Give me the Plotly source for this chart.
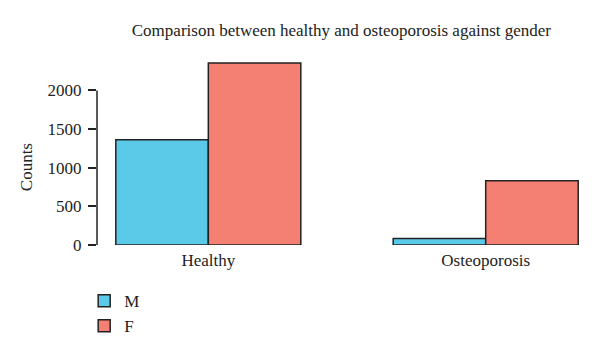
import plotly.graph_objects as go

categories = ["Healthy", "Osteoporosis"]
male_counts = [1362, 85]
female_counts = [2355, 832]
series_names = ["M", "F"]
y_ticks = [0, 500, 1000, 1500, 2000]

FONT = "Liberation Serif"
colors = {"M": "#5BCAE8", "F": "#F47F73"}

fig = go.Figure()
for name, vals, grp in [("M", male_counts, "g1"), ("F", female_counts, "g2")]:
    fig.add_trace(go.Bar(
        x=categories, y=vals, name=name, legendgroup=grp,
        marker=dict(color=colors[name], line=dict(color="#222222", width=1.5)),
    ))

# y axis line only from 0 to 2000 (R base style)
fig.add_shape(type="line", xref="paper", yref="y", x0=0, x1=0, y0=0, y1=2000,
              line=dict(color="#222222", width=1.5))
fig.add_annotation(text="Counts", xref="paper", yref="y", x=-0.143, y=1000,
                   textangle=-90, showarrow=False, font=dict(family=FONT, size=17, color="#222"),
                   xanchor="center", yanchor="middle")

fig.update_layout(
    width=600, height=354,
    margin=dict(l=97, r=10, t=55, b=109),
    paper_bgcolor="white", plot_bgcolor="white",
    barmode="group", bargap=0.333, bargroupgap=0,
    title=dict(text="Comparison between healthy and osteoporosis against gender",
               xref="container", x=0.569, xanchor="center",
               yref="container", y=0.915, yanchor="middle",
               font=dict(family=FONT, size=17, color="#222")),
    font=dict(family=FONT, size=16, color="#222"),
    xaxis=dict(range=[-0.4013, 1.376], showline=False, showgrid=False, zeroline=False,
               ticks="", ticklabelstandoff=3,
               tickfont=dict(family=FONT, size=17, color="#222")),
    yaxis=dict(range=[0, 2458], showline=False, showgrid=False, zeroline=False,
               tickvals=y_ticks, ticks="outside", ticklen=8, tickwidth=1.5, tickcolor="#222",
               ticklabelstandoff=3,
               tickfont=dict(family=FONT, size=17, color="#222")),
    legend=dict(xref="paper", yref="container", x=-0.026, y=0.2,
                xanchor="left", yanchor="top",
                tracegroupgap=0, font=dict(family=FONT, size=17, color="#222"),
                bgcolor="rgba(0,0,0,0)"),
    showlegend=True,
)

fig.write_html("out.html")
